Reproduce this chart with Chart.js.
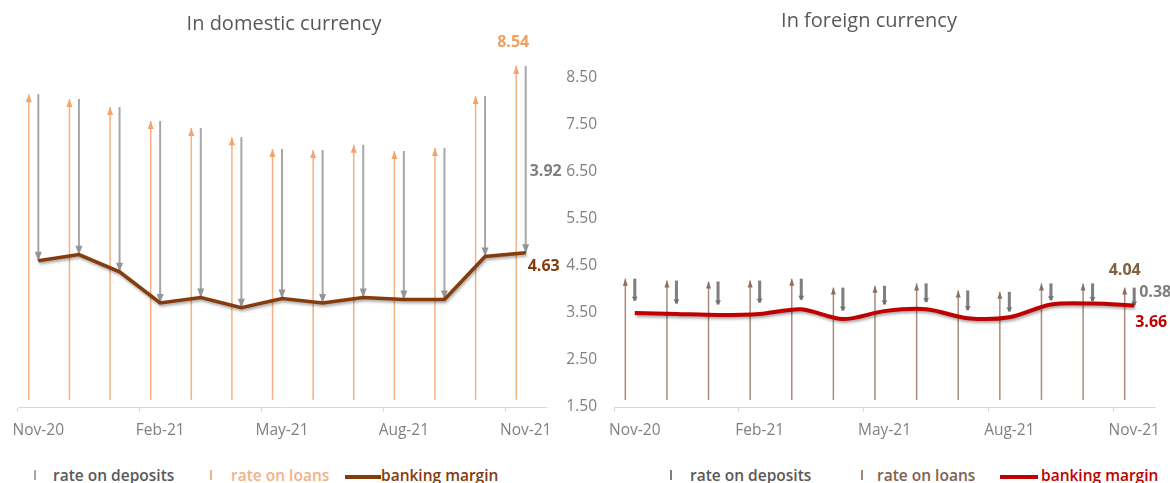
<!DOCTYPE html>
<html lang="en">
<head>
<meta charset="UTF-8">
<title>Banking margin</title>
<script src="https://cdn.jsdelivr.net/npm/chart.js"></script>
<style>
    body { margin: 0; background: #fff; font-family: "Open Sans", sans-serif; }
    #wrap { position: relative; width: 1170px; height: 483px; overflow: hidden; }
    canvas { position: absolute; top: 0; }
    #domestic { left: 0; }
    #foreign { left: 500px; }
    .title { position: absolute; font-size: 20px; line-height: 24px; color: #595959; white-space: nowrap; transform: translateX(-50%); }
    .leg { position: absolute; top: 465px; font-size: 15.5px; line-height: 20px; font-weight: 600; white-space: nowrap; }
    .sym { position: absolute; }
</style>
</head>
<body>
<div id="wrap">
    <canvas id="domestic" width="580" height="440"></canvas>
    <canvas id="foreign" width="670" height="440"></canvas>

    <div class="title" style="left:284px; top:11px;">In domestic currency</div>
    <div class="title" style="left:869px; top:8px;">In foreign currency</div>

    <!-- legend, domestic -->
    <div class="sym" style="left:34px; top:470px; width:2px; height:10px; background:#a6a6a6;"></div>
    <div class="leg" style="left:53px; color:#595959;">rate on deposits</div>
    <div class="sym" style="left:210px; top:470px; width:2px; height:10px; background:#f4b183;"></div>
    <div class="leg" style="left:231px; color:#f4b183;">rate on loans</div>
    <div class="sym" style="left:345px; top:475px; width:36px; height:4px; background:#843c0c;"></div>
    <div class="leg" style="left:381px; color:#843c0c;">banking margin</div>

    <!-- legend, foreign -->
    <div class="sym" style="left:670px; top:470px; width:2px; height:10px; background:#7f7f7f;"></div>
    <div class="leg" style="left:690px; color:#595959;">rate on deposits</div>
    <div class="sym" style="left:861px; top:470px; width:2px; height:10px; background:#a5877a;"></div>
    <div class="leg" style="left:877px; color:#7f6050;">rate on loans</div>
    <div class="sym" style="left:1000px; top:475px; width:38px; height:4px; background:#c00000;"></div>
    <div class="leg" style="left:1041px; color:#c00000;">banking margin</div>
</div>

<script>
// months shown on both panels
const months = ['Nov-20', 'Dec-20', 'Jan-21', 'Feb-21', 'Mar-21', 'Apr-21', 'May-21',
                'Jun-21', 'Jul-21', 'Aug-21', 'Sep-21', 'Oct-21', 'Nov-21'];

// domestic currency
const domLoans    = [7.95, 7.85, 7.68, 7.39, 7.24, 7.05, 6.80, 6.78, 6.89, 6.76, 6.82, 7.91, 8.54];
const domDeposits = [3.49, 3.26, 3.45, 3.81, 3.55, 3.57, 3.13, 3.20, 3.20, 3.11, 3.17, 3.36, 3.92];
const domMargin   = [4.46, 4.59, 4.23, 3.58, 3.69, 3.48, 3.67, 3.58, 3.69, 3.65, 3.65, 4.55, 4.63];
const domBase = 1.55;

// foreign currency
const forLoans    = [4.23, 4.19, 4.17, 4.19, 4.23, 4.04, 4.08, 4.13, 3.98, 3.95, 4.13, 4.13, 4.04];
const forDeposits = [0.47, 0.49, 0.49, 0.47, 0.45, 0.49, 0.40, 0.40, 0.42, 0.42, 0.36, 0.38, 0.38];
const forMargin   = [3.50, 3.48, 3.46, 3.48, 3.58, 3.37, 3.54, 3.58, 3.39, 3.41, 3.68, 3.70, 3.66];
const forBase = 1.65;

const yTicks = [1.5, 2.5, 3.5, 4.5, 5.5, 6.5, 7.5, 8.5];

const FONT = '"Open Sans", sans-serif';

// line shadow + arrow heads on the floating bars
const arrows = {
    id: 'arrows',
    beforeDatasetDraw(chart, args) {
        const ds = chart.data.datasets[args.index];
        if (ds.type === 'line') {
            const ctx = chart.ctx;
            ctx.save();
            ctx.shadowColor = 'rgba(0,0,0,0.35)';
            ctx.shadowBlur = 3;
            ctx.shadowOffsetX = 1;
            ctx.shadowOffsetY = 2;
        }
    },
    afterDatasetDraw(chart, args) {
        const ds = chart.data.datasets[args.index];
        const ctx = chart.ctx;
        if (ds.type === 'line') { ctx.restore(); return; }
        if (!ds.head) return;
        const h = ds.head;
        args.meta.data.forEach(el => {
            const p = el.getProps(['x', 'y', 'base'], true);
            const tip = h.dir === 'up' ? p.y : p.base;
            const s = h.dir === 'up' ? 1 : -1;
            ctx.beginPath();
            ctx.moveTo(p.x, tip);
            ctx.lineTo(p.x - h.w / 2, tip + s * h.len);
            ctx.lineTo(p.x + h.w / 2, tip + s * h.len);
            ctx.closePath();
            ctx.fillStyle = h.color;
            ctx.fill();
        });
    }
};

// value labels at the last month
const valueLabels = {
    id: 'valueLabels',
    afterDraw(chart, args, opts) {
        const ctx = chart.ctx;
        (opts.items || []).forEach(it => {
            const el = chart.getDatasetMeta(it.dataset).data[it.index];
            const p = el.getProps(['x', 'y', 'base'], true);
            let y = p.y;
            if (it.at === 'base') y = p.base;
            if (it.at === 'mid') y = (p.y + p.base) / 2;
            ctx.save();
            ctx.font = 'bold 16px ' + FONT;
            ctx.fillStyle = it.color;
            ctx.textAlign = it.align || 'left';
            ctx.textBaseline = 'middle';
            ctx.fillText(it.text, p.x + it.dx, y + it.dy);
            ctx.restore();
        });
    }
};

function xAxis() {
    return {
        offset: true,
        grid: {
            offset: true,
            drawOnChartArea: false,
            tickLength: 5,
            color: ctx => ctx.index % 3 === 0 ? '#d9d9d9' : 'rgba(0,0,0,0)'
        },
        border: { color: '#d9d9d9', width: 1 },
        ticks: {
            autoSkip: false,
            maxRotation: 0,
            padding: 9,
            color: '#808080',
            font: { family: FONT, size: 15.5 },
            callback: (v, i) => i % 3 === 0 ? months[i] : ''
        },
        afterFit: s => { s.height = 33; s.paddingLeft = 0; s.paddingRight = 0; }
    };
}

const last = months.length - 1;

new Chart(document.getElementById('domestic'), {
    type: 'bar',
    data: {
        labels: months,
        datasets: [
            { type: 'line', label: 'banking margin', data: domMargin, borderColor: '#843c0c',
              borderWidth: 3.5, pointRadius: 0, tension: 0, order: 0 },
            { label: 'rate on loans', data: domLoans.map(v => [domBase, v]), backgroundColor: '#f4b183',
              barPercentage: 0.16, categoryPercentage: 0.7, order: 1,
              head: { dir: 'up', w: 6, len: 8, color: '#f4a46c' } },
            { label: 'rate on deposits', data: domLoans.map((v, i) => [v - domDeposits[i], v]),
              backgroundColor: '#a6a6a6', barPercentage: 0.21, categoryPercentage: 0.7, order: 1,
              head: { dir: 'down', w: 7, len: 9, color: '#959595' } },
            { label: '', data: months.map(() => null), barPercentage: 0.2, categoryPercentage: 0.7, order: 1 }
        ]
    },
    options: {
        responsive: false,
        animation: false,
        layout: { padding: { left: 18, right: 34, top: 44, bottom: 0 } },
        scales: {
            x: xAxis(),
            y: { display: false, min: 1.4, max: 9.0 }
        },
        plugins: {
            legend: { display: false },
            tooltip: { enabled: false },
            valueLabels: {
                items: [
                    { dataset: 1, index: last, at: 'top', text: domLoans[last].toFixed(2), color: '#f0a060', dx: -3, dy: -24, align: 'center' },
                    { dataset: 2, index: last, at: 'mid', text: domDeposits[last].toFixed(2), color: '#7f7f7f', dx: 4, dy: 12 },
                    { dataset: 0, index: last, at: 'top', text: domMargin[last].toFixed(2), color: '#843c0c', dx: 2, dy: 14 }
                ]
            }
        }
    },
    plugins: [arrows, valueLabels]
});

new Chart(document.getElementById('foreign'), {
    type: 'bar',
    data: {
        labels: months,
        datasets: [
            { type: 'line', label: 'banking margin', data: forMargin, borderColor: '#c00000',
              borderWidth: 4, pointRadius: 0, tension: 0.3, order: 0 },
            { label: 'rate on loans', data: forLoans.map(v => [forBase, v]), backgroundColor: '#a88e7f',
              barPercentage: 0.16, categoryPercentage: 0.685, order: 1,
              head: { dir: 'up', w: 5, len: 7, color: '#8c6e5e' } },
            { label: 'rate on deposits', data: forLoans.map((v, i) => [v - forDeposits[i], v]),
              backgroundColor: '#7f7f7f', barPercentage: 0.32, categoryPercentage: 0.685, order: 1,
              head: { dir: 'down', w: 6, len: 4, color: '#6f6f6f' } },
            { label: '', data: months.map(() => null), barPercentage: 0.2, categoryPercentage: 0.685, order: 1 }
        ]
    },
    options: {
        responsive: false,
        animation: false,
        layout: { padding: { left: 0, right: 15, top: 78, bottom: 0 } },
        scales: {
            x: xAxis(),
            y: {
                min: yTicks[0],
                max: yTicks[yTicks.length - 1],
                afterBuildTicks: s => { s.ticks = yTicks.map(v => ({ value: v })); },
                ticks: { padding: 17, color: '#808080', font: { family: FONT, size: 15.5 }, callback: v => v.toFixed(2) },
                grid: { display: false, drawTicks: false },
                border: { display: false },
                afterFit: s => { s.width = 114; s.paddingTop = 0; s.paddingBottom = 0; }
            }
        },
        plugins: {
            legend: { display: false },
            tooltip: { enabled: false },
            valueLabels: {
                items: [
                    { dataset: 1, index: last, at: 'top', text: forLoans[last].toFixed(2), color: '#7f6040', dx: 0, dy: -17, align: 'center' },
                    { dataset: 2, index: last, at: 'mid', text: forDeposits[last].toFixed(2), color: '#7f7f7f', dx: 5, dy: -4 },
                    { dataset: 0, index: last, at: 'top', text: forMargin[last].toFixed(2), color: '#c00000', dx: 1, dy: 17 }
                ]
            }
        }
    },
    plugins: [arrows, valueLabels]
});
</script>
</body>
</html>
